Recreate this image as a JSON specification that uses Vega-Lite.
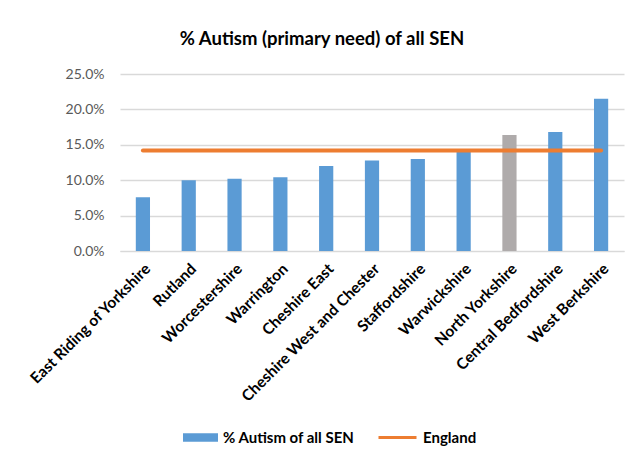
{
  "$schema": "https://vega.github.io/schema/vega-lite/v6.json",
  "width": 504,
  "height": 177,
  "autosize": "none",
  "padding": {"left": 120, "top": 74, "right": 9, "bottom": 206},
  "background": "white",
  "title": {
    "text": "% Autism (primary need) of all SEN",
    "font": "Lato",
    "fontSize": 18.5,
    "fontWeight": "bold",
    "color": "#000000",
    "offset": 19,
    "dx": -50
  },
  "data": {
    "values": [
      {"area": "East Riding of Yorkshire", "pct": 0.076, "england": 0.142, "series": "% Autism of all SEN"},
      {"area": "Rutland", "pct": 0.100, "england": 0.142, "series": "% Autism of all SEN"},
      {"area": "Worcestershire", "pct": 0.102, "england": 0.142, "series": "% Autism of all SEN"},
      {"area": "Warrington", "pct": 0.104, "england": 0.142, "series": "% Autism of all SEN"},
      {"area": "Cheshire East", "pct": 0.120, "england": 0.142, "series": "% Autism of all SEN"},
      {"area": "Cheshire West and Chester", "pct": 0.128, "england": 0.142, "series": "% Autism of all SEN"},
      {"area": "Staffordshire", "pct": 0.130, "england": 0.142, "series": "% Autism of all SEN"},
      {"area": "Warwickshire", "pct": 0.140, "england": 0.142, "series": "% Autism of all SEN"},
      {"area": "North Yorkshire", "pct": 0.164, "england": 0.142, "series": "% Autism of all SEN"},
      {"area": "Central Bedfordshire", "pct": 0.168, "england": 0.142, "series": "% Autism of all SEN"},
      {"area": "West Berkshire", "pct": 0.215, "england": 0.142, "series": "% Autism of all SEN"}
    ]
  },
  "encoding": {
    "x": {
      "field": "area",
      "type": "nominal",
      "sort": null,
      "scale": {"paddingInner": 0.69, "paddingOuter": 0.345},
      "axis": {
        "title": null,
        "labelAngle": -45,
        "labelFont": "Lato",
        "labelFontSize": 15.5,
        "labelFontWeight": "bold",
        "labelColor": "#000000",
        "labelPadding": 10,
        "ticks": false,
        "domainColor": "#D9D9D9",
        "labelLimit": 300
      }
    }
  },
  "layer": [
    {
      "mark": {"type": "bar"},
      "encoding": {
        "y": {
          "field": "pct",
          "type": "quantitative",
          "scale": {"domain": [0, 0.25], "nice": false},
          "axis": {
            "title": null,
            "format": ".1%",
            "values": [0, 0.05, 0.1, 0.15, 0.2, 0.25],
            "labelFont": "Lato",
            "labelFontSize": 14,
            "labelColor": "#595959",
            "labelPadding": 16,
            "labelOverlap": false,
            "labelFlush": false,
            "ticks": false,
            "domain": false,
            "gridColor": "#D9D9D9",
            "gridWidth": 1.3
          }
        },
        "fill": {
          "condition": {"test": "datum.area === 'North Yorkshire'", "value": "#AFABAB"},
          "field": "series",
          "type": "nominal",
          "scale": {"range": ["#5B9BD5"]},
          "legend": {
            "title": null,
            "orient": "none",
            "legendX": 63,
            "legendY": 346,
            "symbolType": "M-1,-0.24H1V0.24H-1Z",
            "symbolSize": 1225,
            "symbolStrokeWidth": 0,
            "labelFont": "Lato",
            "labelFontSize": 15,
            "labelFontWeight": "bold",
            "labelColor": "#000000",
            "labelOffset": 5
          }
        }
      }
    },
    {
      "mark": {"type": "line", "strokeWidth": 4, "strokeCap": "round"},
      "encoding": {
        "y": {
          "field": "england",
          "type": "quantitative",
          "axis": {
            "title": null,
            "format": ".1%",
            "values": [0, 0.05, 0.1, 0.15, 0.2, 0.25],
            "labelFont": "Lato",
            "labelFontSize": 14,
            "labelColor": "#595959",
            "labelPadding": 16,
            "labelOverlap": false,
            "labelFlush": false,
            "ticks": false,
            "domain": false,
            "gridColor": "#D9D9D9",
            "gridWidth": 1.3
          }
        },
        "stroke": {
          "datum": "England",
          "type": "nominal",
          "scale": {"range": ["#ED7D31"]},
          "legend": {
            "title": null,
            "orient": "none",
            "legendX": 257,
            "legendY": 343,
            "symbolType": "stroke",
            "symbolSize": 1444,
            "symbolStrokeWidth": 3,
            "labelFont": "Lato",
            "labelFontSize": 15,
            "labelFontWeight": "bold",
            "labelColor": "#000000",
            "labelOffset": 5
          }
        }
      }
    }
  ],
  "config": {
    "view": {"stroke": null}
  }
}
